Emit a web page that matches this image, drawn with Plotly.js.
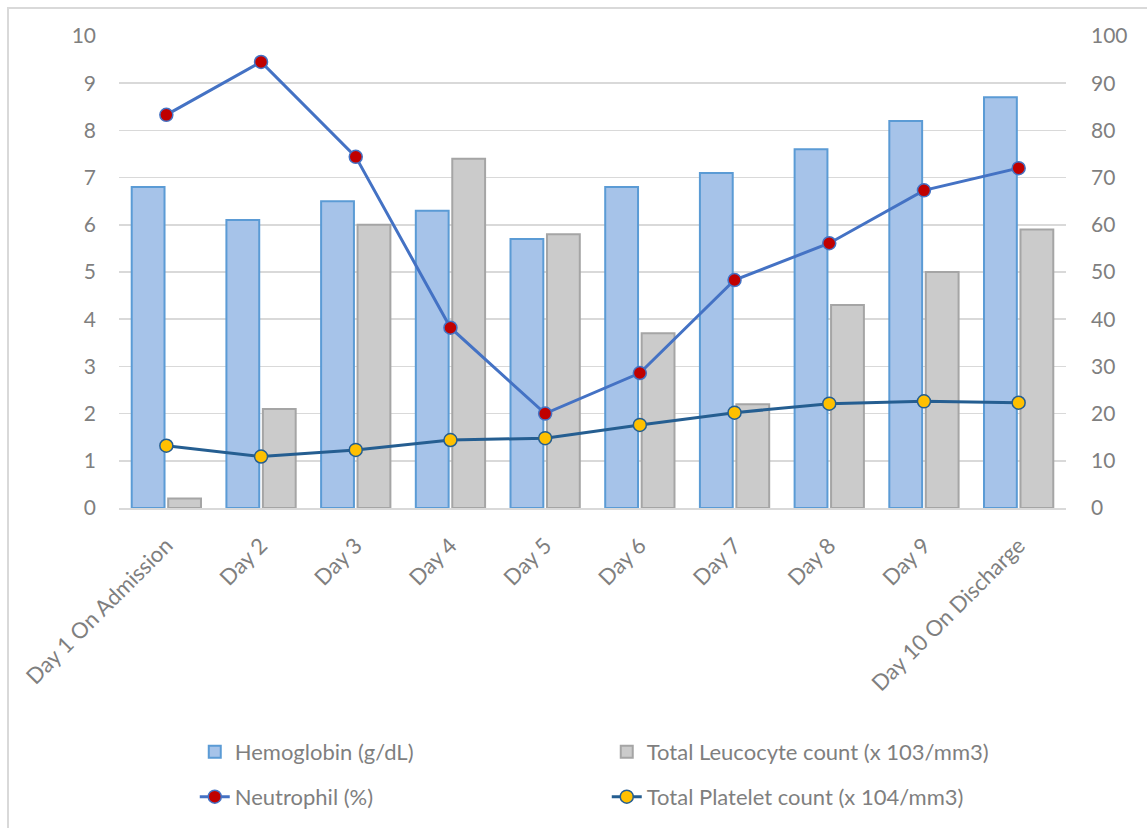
<!DOCTYPE html>
<html>
<head>
<meta charset="utf-8">
<script src="https://cdn.plot.ly/plotly-3.0.1.min.js"></script>
<style>
  html, body { margin: 0; padding: 0; background: #ffffff; overflow: hidden; }
  #wrap { position: relative; width: 1147px; height: 828px; }
  #chart { position: absolute; left: 0; top: 0; width: 1147px; height: 828px; }
  #frame { position: absolute; left: 7px; top: 7px; width: 1300px; height: 1000px;
           border-left: 2px solid #d9d9d9; border-top: 2px solid #d9d9d9; pointer-events: none; }
</style>
</head>
<body>
<div id="wrap">
  <div id="chart"></div>
  <div id="frame"></div>
</div>
<script>
const categories = ["Day 1 On Admission", "Day 2", "Day 3", "Day 4", "Day 5", "Day 6", "Day 7", "Day 8", "Day 9", "Day 10 On Discharge"];
const hemoglobin = [6.8, 6.1, 6.5, 6.3, 5.7, 6.8, 7.1, 7.6, 8.2, 8.7];
const leucocyte = [0.2, 2.1, 6.0, 7.4, 5.8, 3.7, 2.2, 4.3, 5.0, 5.9];
const neutrophil = [83.3, 94.5, 74.4, 38.2, 20.0, 28.6, 48.3, 56.1, 67.3, 72.0];
const platelet = [1.32, 1.09, 1.23, 1.44, 1.48, 1.76, 2.02, 2.21, 2.26, 2.23];
const leftTicks = [0, 1, 2, 3, 4, 5, 6, 7, 8, 9, 10];
const rightTicks = [0, 10, 20, 30, 40, 50, 60, 70, 80, 90, 100];

const FONT = "Lato, 'Open Sans', 'DejaVu Sans', sans-serif";
const GRAY = "#7f7f7f";

const traces = [
  {
    type: "bar", name: "Hemoglobin (g/dL)", x: categories, y: hemoglobin,
    marker: { color: "#a6c3e9", line: { color: "#5b9bd5", width: 2 } },
    legend: "legend", yaxis: "y", hoverinfo: "x+y"
  },
  {
    type: "bar", name: "Total Leucocyte count (x 103/mm3)", x: categories, y: leucocyte,
    marker: { color: "#cbcbcb", line: { color: "#a5a5a5", width: 2 } },
    legend: "legend", yaxis: "y", hoverinfo: "x+y"
  },
  {
    type: "scatter", mode: "lines+markers", name: "Neutrophil (%)", x: categories, y: neutrophil,
    line: { color: "#4472c4", width: 3 },
    marker: { color: "#c00000", size: 13, line: { color: "#4472c4", width: 1.5 } },
    legend: "legend2", yaxis: "y2"
  },
  {
    type: "scatter", mode: "lines+markers", name: "Total Platelet count (x 104/mm3)", x: categories, y: platelet,
    line: { color: "#255e91", width: 3 },
    marker: { color: "#ffc000", size: 13, line: { color: "#255e91", width: 1.5 } },
    legend: "legend2", yaxis: "y"
  }
];

const legendCommon = {
  orientation: "h", xanchor: "left", yanchor: "middle", x: 0.08,
  entrywidth: 367, entrywidthmode: "pixels",
  font: { family: FONT, size: 22, color: GRAY },
  bgcolor: "rgba(0,0,0,0)", borderwidth: 0, itemwidth: 30
};

const layout = {
  width: 1147, height: 828,
  margin: { l: 119, r: 81, t: 36, b: 320, pad: 0, autoexpand: false },
  paper_bgcolor: "#ffffff", plot_bgcolor: "#ffffff",
  font: { family: FONT, size: 20, color: GRAY },
  barmode: "group", bargap: 0.23, bargroupgap: 0.1,
  showlegend: true,
  xaxis: {
    type: "category", range: [-0.5, categories.length - 0.5], autorange: false,
    tickangle: -45, ticks: "", showgrid: false,
    showline: true, linecolor: "#d9d9d9", linewidth: 2,
    tickfont: { family: FONT, size: 22, color: GRAY },
    ticklabelstandoff: 14, automargin: false
  },
  yaxis: {
    range: [0, 10], tickvals: leftTicks, ticktext: leftTicks.map(String),
    showgrid: true, gridcolor: "#d9d9d9", gridwidth: 1.5, zeroline: false,
    showline: false, ticks: "", ticklabelstandoff: 22,
    tickfont: { family: FONT, size: 21, color: GRAY }, automargin: false
  },
  yaxis2: {
    range: [0, 100], tickvals: rightTicks, ticktext: rightTicks.map(String),
    overlaying: "y", side: "right", showgrid: false, zeroline: false,
    showline: false, ticks: "", ticklabelstandoff: 24,
    tickfont: { family: FONT, size: 21, color: GRAY }, automargin: false
  },
  legend: Object.assign({}, legendCommon, { y: -0.517 }),
  legend2: Object.assign({}, legendCommon, { y: -0.612 })
};

Plotly.newPlot("chart", traces, layout, { displayModeBar: false, staticPlot: true });
</script>
</body>
</html>
